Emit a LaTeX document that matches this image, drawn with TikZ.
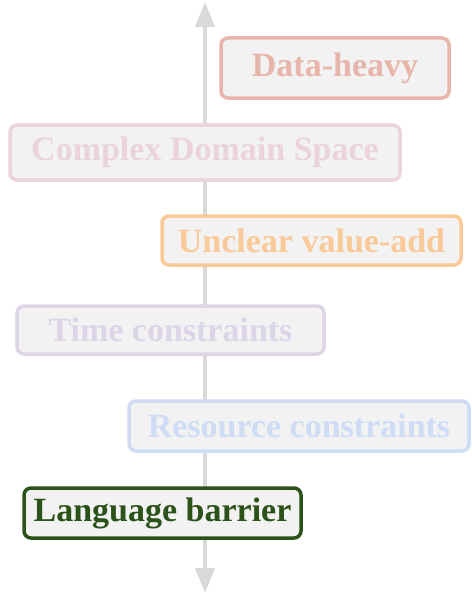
\documentclass[tikz,border=0pt]{standalone}
\usepackage{fontspec}
\setmainfont{Liberation Serif}
\usetikzlibrary{arrows.meta}
\definecolor{axisgray}{HTML}{D9D9D9}
\definecolor{boxfill}{HTML}{F2F2F2}
\definecolor{cData}{HTML}{E8B5AB}
\definecolor{cComplex}{HTML}{EBD3DD}
\definecolor{cUnclear}{HTML}{F9C998}
\definecolor{cTime}{HTML}{DDD4E8}
\definecolor{cResource}{HTML}{CEDCF6}
\definecolor{cLanguage}{HTML}{2B5219}
\tikzset{
  tag/.style={draw=#1, text=#1, fill=boxfill, line width=3.5pt,
    rounded corners=7pt, inner sep=0pt, anchor=center,
    font=\fontsize{34}{38}\selectfont\bfseries},
  axisline/.style={draw=axisgray, line width=4pt,
    {Triangle[width=19pt,length=25pt]}-{Triangle[width=19pt,length=25pt]}}
}
\begin{document}
\begin{tikzpicture}[x=1pt,y=-1pt]
  \useasboundingbox (0,0) rectangle (471,594);
  % vertical axis
  \coordinate (axtop) at (205,2);
  \coordinate (axbot) at (205,593);
  \draw[axisline] (axbot) -- (axtop);
  % labelled boxes
  \node[tag=cData, minimum width=228pt, minimum height=60pt] (data) at (335,68) {Data-heavy};
  \node[tag=cComplex, minimum width=390pt, minimum height=55pt] (complex) at (205,152.5) {Complex Domain Space};
  \node[tag=cUnclear, minimum width=299pt, minimum height=49pt] (unclear) at (311.5,240.5) {Unclear value-add};
  \node[tag=cTime, minimum width=307pt, minimum height=48pt] (time) at (170.5,330) {Time constraints\hspace{16pt}};
  \node[tag=cResource, minimum width=340pt, minimum height=50pt] (resource) at (299,426) {Resource constraints};
  \node[tag=cLanguage, minimum width=277pt, minimum height=50pt] (language) at (162.5,513) {Language barrier\hspace{4pt}};
\end{tikzpicture}
\end{document}
